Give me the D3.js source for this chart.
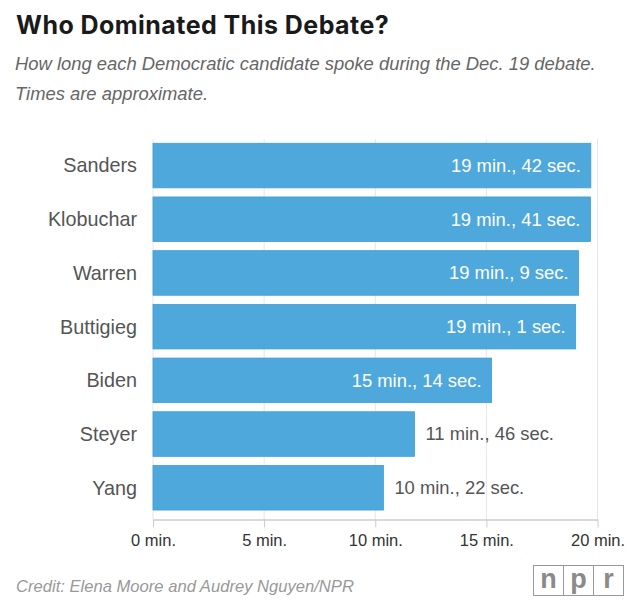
<!DOCTYPE html>
<html><head><meta charset="utf-8">
<script src="https://cdn.jsdelivr.net/npm/d3@7"></script>
<style>body{margin:0;background:#fff;} svg{display:block;}</style>
</head><body>
<script>
const candidates = ["Sanders","Klobuchar","Warren","Buttigieg","Biden","Steyer","Yang"];
const minutes = [19,19,19,19,15,11,10];
const seconds = [42,41,9,1,14,46,22];
const tickValues = [0,5,10,15,20];
const tickLabels = ["0 min.","5 min.","10 min.","15 min.","20 min."];

const data = candidates.map((c,i)=>({name:c, m:minutes[i], s:seconds[i], v:minutes[i]+seconds[i]/60}));

const W=640,H=612;
const svg=d3.select("body").append("svg").attr("width",W).attr("height",H);
const font="'Liberation Sans', Arial, Helvetica, sans-serif";

svg.append("text").attr("x",16).attr("y",34).text("Who Dominated This Debate?")
  .attr("font-family","Inter, 'DejaVu Sans', sans-serif").attr("font-weight",700).attr("font-size",25)
  .attr("letter-spacing",0.45).attr("fill","#1a1a1a");
svg.append("text").attr("x",15).attr("y",70).text("How long each Democratic candidate spoke during the Dec. 19 debate.")
  .attr("font-family",font).attr("font-style","italic").attr("font-size",18.4).attr("fill","#666");
svg.append("text").attr("x",15).attr("y",100).text("Times are approximate.")
  .attr("font-family",font).attr("font-style","italic").attr("font-size",18.4).attr("fill","#666");

const x=d3.scaleLinear().domain([0,20]).range([153,597.5]);
const y=d3.scaleBand().domain(candidates).range([138.7,514.6]).paddingInner(0.17).paddingOuter(0.085);

// gridlines
svg.append("g").selectAll("line").data(tickValues).join("line")
  .attr("x1",d=>x(d)).attr("x2",d=>x(d)).attr("y1",139).attr("y2",519.5)
  .attr("stroke","#e6e6e6").attr("stroke-width",1);

// axis
const axis=d3.axisBottom(x).tickValues(tickValues).tickFormat((d,i)=>tickLabels[i]).tickSize(8).tickSizeOuter(0).tickPadding(7);
const ag=svg.append("g").attr("transform","translate(0,519.5)").call(axis);
ag.select(".domain").attr("stroke","#cccccc").attr("stroke-width",1.5);
ag.selectAll(".tick line").attr("stroke","#cccccc");
ag.selectAll(".tick text").attr("font-family",font).attr("font-size",16.5).attr("fill","#333");

// bars
svg.append("g").selectAll("rect").data(data).join("rect")
  .attr("x",x(0)).attr("y",d=>y(d.name)).attr("width",d=>x(d.v)-x(0)).attr("height",y.bandwidth())
  .attr("fill","#4fa8dc").attr("stroke","#3e9dd6").attr("stroke-width",0.8);

// category labels
svg.append("g").selectAll("text").data(data).join("text")
  .attr("x",137).attr("y",d=>y(d.name)+y.bandwidth()/2).attr("dy","0.35em")
  .attr("text-anchor","end").attr("font-family",font).attr("font-size",19.8).attr("fill","#555")
  .text(d=>d.name);

// value labels
svg.append("g").selectAll("text").data(data).join("text")
  .attr("x",d=>d.v>14 ? x(d.v)-10 : x(d.v)+11)
  .attr("y",d=>y(d.name)+y.bandwidth()/2).attr("dy","0.35em")
  .attr("text-anchor",d=>d.v>14?"end":"start")
  .attr("font-family",font).attr("font-size",18.4)
  .attr("fill",d=>d.v>14?"#fff":"#555")
  .text(d=>`${d.m} min., ${d.s} sec.`);

// credit
svg.append("text").attr("x",16).attr("y",592).text("Credit: Elena Moore and Audrey Nguyen/NPR")
  .attr("font-family",font).attr("font-style","italic").attr("font-size",16.6).attr("fill","#999");

// npr logo
const logo=svg.append("g").attr("transform","translate(533.5,565.5)");
["n","p","r"].forEach((l,i)=>{
  logo.append("rect").attr("x",i*30).attr("y",0).attr("width",30).attr("height",30)
    .attr("fill","#fff").attr("stroke","#999").attr("stroke-width",1);
  logo.append("text").attr("x",i*30+15).attr("y",22).attr("text-anchor","middle")
    .attr("font-family",font).attr("font-weight",700).attr("font-size",27).attr("fill","#8a8a8a").text(l);
});
</script>
</body></html>
